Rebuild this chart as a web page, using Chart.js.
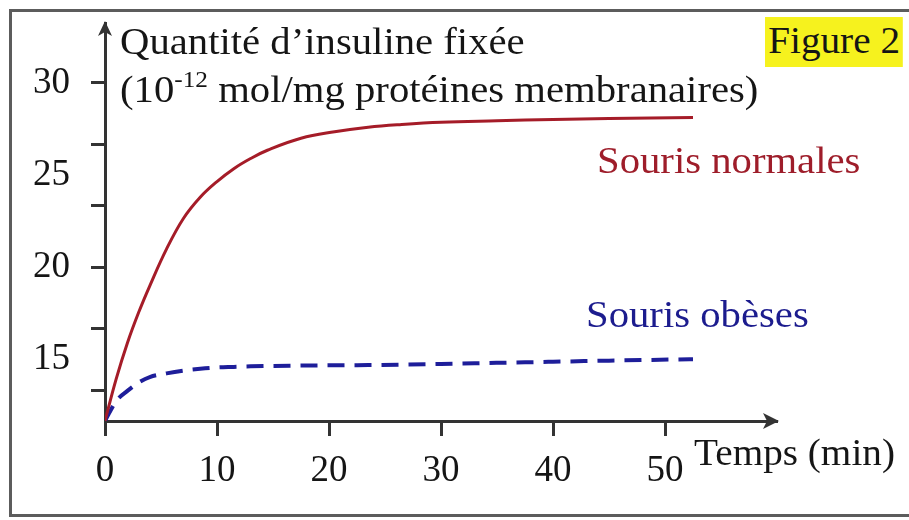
<!DOCTYPE html>
<html>
<head>
<meta charset="utf-8">
<script src="https://cdn.jsdelivr.net/npm/chart.js@4.4.0/dist/chart.umd.min.js"></script>
<style>
  html, body { margin: 0; background: #fff; overflow: hidden; font-family: 'Liberation Serif', 'Times New Roman', serif; }
  #wrap { position: relative; width: 909px; height: 520px; overflow: hidden; }
  #frameTop { position: absolute; left: 9px; top: 9px; width: 900px; height: 3px; background: #5c5c5c; }
  #frameLeft { position: absolute; left: 9px; top: 9px; width: 3px; height: 508px; background: #5c5c5c; }
  #frameBottom { position: absolute; left: 9px; top: 514px; width: 900px; height: 3px; background: #5c5c5c; }
  #myChart { position: absolute; left: 0; top: 0; }
  .lbl { position: absolute; white-space: nowrap; font-size: 37px; line-height: 1; color: #151515;
         transform-origin: 0 0; transform: scaleX(1.1); }
  .sup { font-size: 23px; position: relative; top: -15px; }
  #fig { background: #f6f21e; padding: 5px 3px 8px 3px; transform: scaleX(1.06); }
</style>
</head>
<body>
<div id="wrap">
  <div id="frameTop"></div>
  <div id="frameLeft"></div>
  <div id="frameBottom"></div>
  <canvas id="myChart" width="909" height="520"></canvas>
  <div class="lbl" style="left:120px; top:23px">Quantité d’insuline fixée</div>
  <div class="lbl" style="left:120px; top:71px">(10<span class="sup">-12</span> mol/mg protéines membranaires)</div>
  <div class="lbl" id="fig" style="left:765px; top:17px">Figure 2</div>
  <div class="lbl" style="left:597px; top:142px; color:#9e1d2a">Souris normales</div>
  <div class="lbl" style="left:586px; top:296px; color:#1c1c8e">Souris obèses</div>
  <div class="lbl" style="left:694px; top:434px; transform:scaleX(1.06)">Temps (min)</div>
</div>
<script>
        // temps en minutes
        const temps = [0, 1, 2, 3, 4, 5.5, 7, 8.5, 10, 11.5, 13, 14.5, 17.5, 20.5, 23.5, 26.5, 30, 35, 40, 45, 52.5];

        // insuline fixée (10^-12 mol/mg)
        const normales = [11.67, 13.95, 15.9, 17.55, 19.0, 21.0, 22.65, 23.8, 24.65, 25.35, 25.9, 26.35, 27.0, 27.35, 27.6, 27.75, 27.87, 27.95, 28.02, 28.07, 28.12];
        const obeses = [11.67, 12.75, 13.3, 13.75, 14.05, 14.25, 14.4, 14.5, 14.57, 14.6, 14.63, 14.65, 14.67, 14.69, 14.7, 14.72, 14.76, 14.82, 14.88, 14.94, 15.02];

        const xLabels = [0, 10, 20, 30, 40, 50];
        const yLabels = [15, 20, 25, 30];
        const yMarks = [30, 80 / 3, 70 / 3, 20, 50 / 3, 40 / 3];

        const xMax = 60;
        const yMin = 35 / 3;
        const yMax = 33.25;

        const serif = { family: "'Liberation Serif', serif", size: 37 };

        // pas de marge automatique autour des axes
        const noPad = s => { s.paddingTop = 0; s.paddingBottom = 0; s.paddingLeft = 0; s.paddingRight = 0; };

        // flèches au bout des axes
        const arrows = {
            id: 'arrows',
            afterDraw(chart) {
                const { ctx, chartArea: a } = chart;
                ctx.save();
                ctx.fillStyle = '#333';
                ctx.beginPath();
                ctx.moveTo(a.left, a.top - 2);
                ctx.lineTo(a.left + 7, a.top + 13);
                ctx.lineTo(a.left, a.top + 9);
                ctx.lineTo(a.left - 7, a.top + 13);
                ctx.closePath();
                ctx.fill();
                ctx.beginPath();
                ctx.moveTo(a.right + 2, a.bottom);
                ctx.lineTo(a.right - 14, a.bottom - 8);
                ctx.lineTo(a.right - 10, a.bottom);
                ctx.lineTo(a.right - 14, a.bottom + 8);
                ctx.closePath();
                ctx.fill();
                ctx.restore();
            }
        };

        const data = {
            datasets: [{
                label: 'Souris normales',
                data: temps.map((t, i) => ({ x: t, y: normales[i] })),
                borderColor: '#a51c28',
                borderWidth: 3,
                pointRadius: 0,
                tension: 0.4,
                fill: false
            }, {
                label: 'Souris obèses',
                data: temps.map((t, i) => ({ x: t, y: obeses[i] })),
                borderColor: '#1e1e9a',
                borderWidth: 4,
                borderDash: [17, 10],
                pointRadius: 0,
                cubicInterpolationMode: 'monotone',
                fill: false
            }]
        };

        const config = {
            type: 'line',
            data: data,
            plugins: [arrows],
            options: {
                responsive: false,
                animation: false,
                devicePixelRatio: 1,
                layout: { padding: { left: 0, top: 23, right: 132, bottom: 0 } },
                plugins: { legend: { display: false }, tooltip: { enabled: false } },
                scales: {
                    x: {
                        type: 'linear',
                        position: 'bottom',
                        min: 0,
                        max: xMax,
                        afterBuildTicks: s => { s.ticks = xLabels.map(v => ({ value: v })); },
                        afterFit: s => { s.height = 99; noPad(s); },
                        ticks: { padding: 13, color: '#151515', font: serif, maxRotation: 0, autoSkip: false },
                        grid: { drawOnChartArea: false, tickLength: 15, tickWidth: 3, tickColor: '#333' },
                        border: { display: true, color: '#333', width: 3 }
                    },
                    y: {
                        type: 'linear',
                        position: 'left',
                        weight: 0,
                        min: yMin,
                        max: yMax,
                        afterBuildTicks: s => { s.ticks = yMarks.map(v => ({ value: v })); },
                        afterFit: s => { s.width = 14; noPad(s); },
                        ticks: { display: false },
                        grid: { drawOnChartArea: false, tickLength: 14, tickWidth: 3, tickColor: '#333' },
                        border: { display: true, color: '#333', width: 3 }
                    },
                    yLab: {
                        type: 'linear',
                        position: 'left',
                        weight: 1,
                        min: yMin,
                        max: yMax,
                        afterBuildTicks: s => { s.ticks = yLabels.map(v => ({ value: v })); },
                        afterFit: s => { s.width = 91; noPad(s); },
                        ticks: { padding: 21, color: '#151515', font: serif },
                        grid: { display: false, drawTicks: false },
                        border: { display: false }
                    }
                }
            }
        };

        const myChart = new Chart(
            document.getElementById('myChart'),
            config
        );
</script>
</body>
</html>
